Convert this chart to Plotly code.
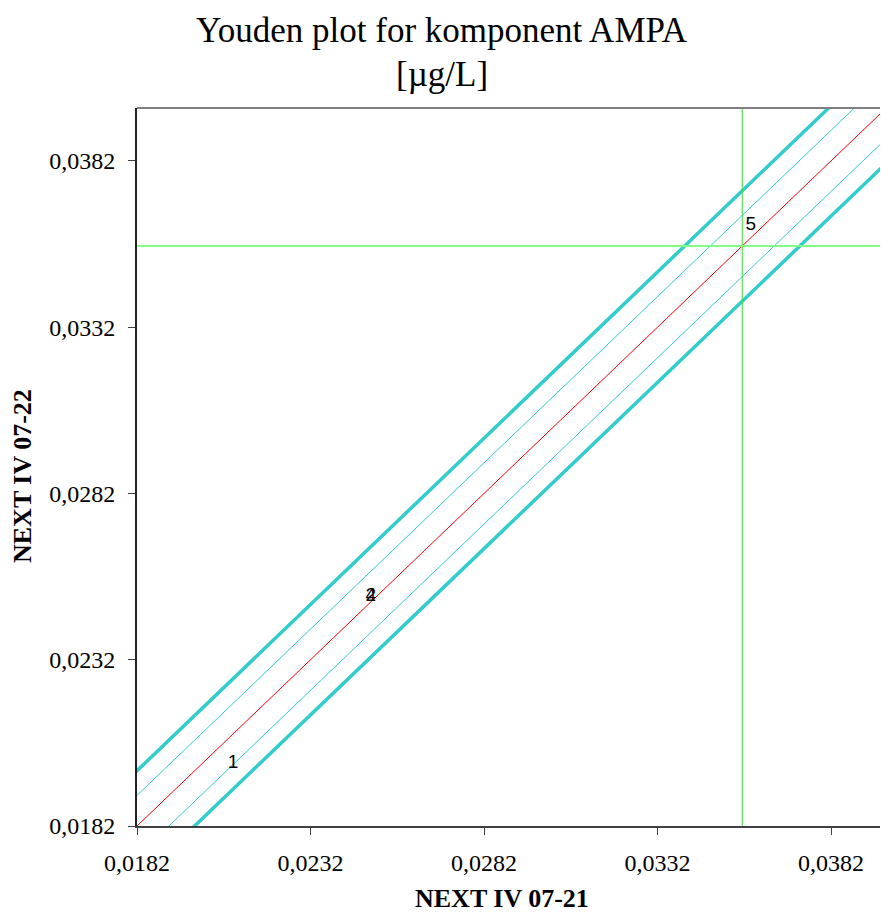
import plotly.graph_objects as go

# ---- data ----
point_labels = ["1", "2", "4", "5"]
x_vals = [0.02097, 0.02494, 0.02494, 0.03589]   # NEXT IV 07-21
y_vals = [0.02010, 0.02510, 0.02510, 0.03627]   # NEXT IV 07-22
median_x = 0.03564
median_y = 0.03564
offset_thin = 0.00092
offset_thick = 0.00166
tick_vals = [0.0182, 0.0232, 0.0282, 0.0332, 0.0382]
tick_text = ["0,0182", "0,0232", "0,0282", "0,0332", "0,0382"]
x_range = [0.0182, 0.03961]
y_range = [0.0182, 0.03979]

line_x = [0.0140, 0.0440]

fig = go.Figure()

CYAN = "#33CCCC"
for off, w in [(offset_thick, 3.5), (-offset_thick, 3.5), (offset_thin, 1), (-offset_thin, 1)]:
    fig.add_trace(go.Scatter(x=line_x, y=[v + off for v in line_x], mode="lines",
                             line=dict(color=CYAN, width=w), hoverinfo="skip", showlegend=False))
fig.add_trace(go.Scatter(x=line_x, y=line_x, mode="lines",
                         line=dict(color="#FF0000", width=1), hoverinfo="skip", showlegend=False))
# median lines
fig.add_trace(go.Scatter(x=[median_x, median_x], y=[0.0, 0.06], mode="lines",
                         line=dict(color="#33DD33", width=1), hoverinfo="skip", showlegend=False))
fig.add_trace(go.Scatter(x=[0.0, 0.06], y=[median_y, median_y], mode="lines",
                         line=dict(color="#80FF80", width=2), hoverinfo="skip", showlegend=False))
# labelled points
fig.add_trace(go.Scatter(x=x_vals, y=y_vals, mode="text", text=point_labels,
                         textposition="middle center",
                         textfont=dict(family="Liberation Sans", size=19, color="black"),
                         showlegend=False))

fig.update_layout(
    width=881, height=915,
    margin=dict(l=137, r=1, t=108, b=89),
    paper_bgcolor="white", plot_bgcolor="white",
    separators=", ",
    showlegend=False,
    font=dict(family="Liberation Serif", color="black"),
)
fig.update_xaxes(range=x_range, tickvals=tick_vals, ticktext=tick_text,
                 showgrid=False, zeroline=False, showline=True, linecolor="#404040", linewidth=2,
                 ticks="outside", ticklen=7, tickcolor="#404040", tickwidth=1,
                 ticklabelstandoff=7,
                 tickfont=dict(family="Liberation Serif", size=24, color="black"))
fig.update_yaxes(range=y_range, tickvals=tick_vals, ticktext=tick_text,
                 showgrid=False, zeroline=False, showline=True, linecolor="#202020", linewidth=2,
                 ticks="outside", ticklen=7, tickcolor="#404040", tickwidth=1,
                 ticklabelstandoff=8,
                 tickfont=dict(family="Liberation Serif", size=24, color="black"))

# top border
fig.add_shape(type="line", xref="paper", yref="paper", x0=0, x1=1, y0=1, y1=1,
              line=dict(color="#808080", width=2))

ann_font = dict(family="Liberation Serif", size=35, color="black")
fig.add_annotation(text="Youden plot for komponent AMPA", xref="paper", yref="paper",
                   x=(442 - 137) / 743, y=(826 - 30) / 718, xanchor="center", yanchor="middle",
                   showarrow=False, font=ann_font)
fig.add_annotation(text="[µg/L]", xref="paper", yref="paper",
                   x=(442 - 137) / 743, y=(826 - 74) / 718, xanchor="center", yanchor="middle",
                   showarrow=False, font=ann_font)
fig.add_annotation(text="<b>NEXT IV 07-21</b>", xref="paper", yref="paper",
                   x=(502 - 137) / 743, y=(826 - 898) / 718, xanchor="center", yanchor="middle",
                   showarrow=False, font=dict(family="Liberation Serif", size=26, color="black"))
fig.add_annotation(text="<b>NEXT IV 07-22</b>", xref="paper", yref="paper",
                   x=(22 - 137) / 743, y=(826 - 476) / 718, xanchor="center", yanchor="middle",
                   textangle=-90, showarrow=False,
                   font=dict(family="Liberation Serif", size=26, color="black"))

fig.write_html("out.html")
